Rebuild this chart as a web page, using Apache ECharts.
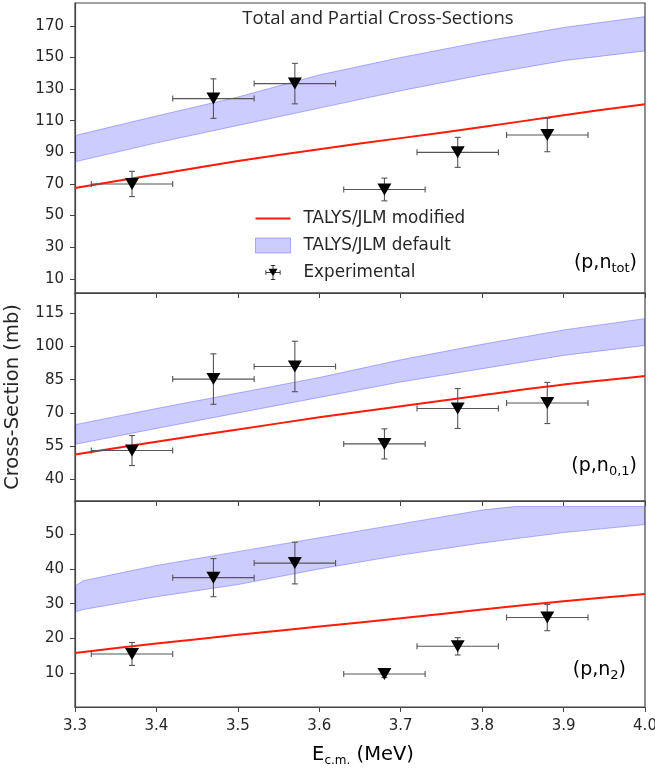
<!DOCTYPE html>
<html>
<head>
<meta charset="utf-8">
<script src="https://cdn.jsdelivr.net/npm/echarts@6/dist/echarts.min.js"></script>
<style>
  html, body { margin: 0; padding: 0; background: #fff; }
  #main { width: 655px; height: 772px; }
</style>
</head>
<body>
<div id="main"></div>
<script>
// measured points (same energies in every panel)
var energies = [3.37, 3.47, 3.57, 3.68, 3.77, 3.88];
var energyErr = [0.05, 0.05, 0.05, 0.05, 0.05, 0.05];

var totExp = [70, 124, 133.5, 66.5, 90, 101];
var totErr = [8, 12.5, 12.8, 7.2, 9.5, 10.6];
var n01Exp = [53, 85.3, 91, 56, 72, 74.5];
var n01Err = [6.8, 11.4, 11.4, 6.8, 9, 9.3];
var n2Exp = [15.5, 37.5, 41.7, 9.7, 17.7, 26];
var n2Err = [3.3, 5.5, 6, 1, 2.5, 3.8];

// TALYS/JLM modified curves
var modelE = [3.3, 3.4, 3.5, 3.6, 3.7, 3.8, 3.9, 4.0];
var totModified = [67.4, 76, 84.5, 92, 99, 106, 113.5, 120.5];
var n01Modified = [51.2, 57, 62.5, 68, 73, 78, 82.8, 86.7];
var n2Modified = [15.8, 18.5, 21, 23.4, 25.8, 28.3, 30.7, 32.8];

// TALYS/JLM default bands
var totLow = [84, 96, 107, 118, 129, 139, 148, 154.2];
var totHigh = [100.6, 113, 125, 139, 150, 160, 169, 175.9];
var n01Low = [55.8, 63, 70, 77, 84, 90, 96, 100.5];
var n01High = [64.7, 72, 79, 86, 94, 101, 107.5, 112.6];
var n2BandE = [3.3, 3.31, 3.4, 3.5, 3.6, 3.7, 3.8, 3.84, 3.9, 4.0];
var n2Low = [27.6, 28.3, 32, 35.5, 40, 44, 47.5, 48.7, 50.5, 52.8];
var n2High = [35.1, 36.6, 41, 45, 49, 53, 57, 58, 58, 58];

// tick labels
var totTicks = [10, 30, 50, 70, 90, 110, 130, 150, 170];
var n01Ticks = [40, 55, 70, 85, 100, 115];
var n2Ticks = [10, 20, 30, 40, 50];

var FONT = 'DejaVu Sans';
var TXT = '#262626';
var AX = '#444';
var BAND_FILL = 'rgba(0,0,255,0.2)';
var BAND_EDGE = 'rgba(90,90,255,0.45)';

function zip(xs, ys) {
  return xs.map(function (x, i) { return [x, ys[i]]; });
}

function bandSeries(idx, xs, lo, hi) {
  return {
    name: 'TALYS/JLM default',
    type: 'custom',
    xAxisIndex: idx, yAxisIndex: idx,
    z: 1,
    clip: true,
    itemStyle: { color: BAND_FILL },
    encode: { x: 0, y: [1, 2] },
    data: xs.map(function (x, i) { return [x, lo[i], hi[i]]; }),
    renderItem: function (params, api) {
      if (params.dataIndex !== 0) return;
      var top = xs.map(function (x, i) { return api.coord([x, hi[i]]); });
      var bot = xs.map(function (x, i) { return api.coord([x, lo[i]]); });
      var poly = top.concat(bot.slice().reverse());
      return {
        type: 'group',
        children: [
          { type: 'polygon', shape: { points: poly }, style: { fill: BAND_FILL, stroke: null } },
          { type: 'polyline', shape: { points: top }, style: { stroke: BAND_EDGE, lineWidth: 1, fill: null } },
          { type: 'polyline', shape: { points: bot }, style: { stroke: BAND_EDGE, lineWidth: 1, fill: null } }
        ]
      };
    }
  };
}

function lineSeries(idx, ys) {
  return {
    name: 'TALYS/JLM modified',
    type: 'line',
    xAxisIndex: idx, yAxisIndex: idx,
    z: 2,
    smooth: 0.3,
    symbol: 'none',
    lineStyle: { color: '#ff1a0a', width: 2 },
    itemStyle: { color: '#ff1a0a' },
    data: zip(modelE, ys)
  };
}

function errSeries(idx, ys, dy) {
  return {
    name: 'Experimental',
    type: 'custom',
    xAxisIndex: idx, yAxisIndex: idx,
    z: 3,
    itemStyle: { color: '#000' },
    encode: { x: 0, y: 1 },
    data: energies.map(function (x, i) { return [x, ys[i], energyErr[i], dy[i]]; }),
    renderItem: function (params, api) {
      var x = api.value(0), y = api.value(1), ex = api.value(2), ey = api.value(3);
      var l = api.coord([x - ex, y]), r = api.coord([x + ex, y]);
      var t = api.coord([x, y + ey]), b = api.coord([x, y - ey]);
      var st = { stroke: '#555', lineWidth: 1.1 };
      var cap = 3;
      function seg(x1, y1, x2, y2) {
        return { type: 'line', shape: { x1: x1, y1: y1, x2: x2, y2: y2 }, style: st };
      }
      return {
        type: 'group',
        children: [
          seg(l[0], l[1], r[0], r[1]),
          seg(l[0], l[1] - cap, l[0], l[1] + cap),
          seg(r[0], r[1] - cap, r[0], r[1] + cap),
          seg(t[0], t[1], b[0], b[1]),
          seg(t[0] - cap, t[1], t[0] + cap, t[1]),
          seg(b[0] - cap, b[1], b[0] + cap, b[1])
        ]
      };
    }
  };
}

function pointSeries(idx, ys) {
  return {
    name: 'Experimental',
    type: 'scatter',
    xAxisIndex: idx, yAxisIndex: idx,
    z: 4,
    symbol: 'triangle',
    symbolRotate: 180,
    symbolSize: [14, 12],
    itemStyle: { color: '#000', opacity: 1 },
    data: zip(energies, ys)
  };
}

function xAxis(idx, showLabels) {
  return {
    type: 'value', gridIndex: idx,
    min: 3.3, max: 4.0, interval: 0.1,
    axisLine: { show: true, lineStyle: { color: AX, width: 1.2 } },
    axisTick: { show: true, length: 5, lineStyle: { color: AX } },
    splitLine: { show: false },
    axisLabel: {
      show: showLabels, color: TXT, fontFamily: FONT, fontSize: 15, margin: 12,
      formatter: function (v) { return v.toFixed(1); }
    }
  };
}

function yAxis(idx, min, max, ticks) {
  return {
    type: 'value', gridIndex: idx,
    min: min, max: max,
    axisLine: { show: true, lineStyle: { color: AX, width: 1.2 } },
    axisTick: { show: true, length: 5, lineStyle: { color: AX }, customValues: ticks },
    splitLine: { show: false },
    axisLabel: { color: TXT, fontFamily: FONT, fontSize: 15, margin: 11, customValues: ticks }
  };
}

function grid(top, height) {
  return {
    left: 75, right: 10, top: top, height: height,
    outerBoundsMode: 'none', containLabel: false,
    show: true, borderColor: AX, borderWidth: 1.2, backgroundColor: 'transparent'
  };
}

var lineIcon = 'path://M0,0L35,0L35,2.2L0,2.2Z';
var expIcon = 'path://M0,9.5L20,9.5L20,10.5L0,10.5Z M0,7L1,7L1,13L0,13Z M19,7L20,7L20,13L19,13Z ' +
  'M9.5,0L10.5,0L10.5,20L9.5,20Z M7,0L13,0L13,1L7,1Z M7,19L13,19L13,20L7,20Z M4,5L16,5L10,15Z';

var myChart = echarts.init(document.getElementById('main'));

var option = {
  animation: false,
  backgroundColor: '#fff',
  grid: [grid(3, 290), grid(293, 208), grid(501, 206)],
  xAxis: [xAxis(0, false), xAxis(1, false), xAxis(2, true)],
  yAxis: [
    yAxis(0, 1, 184.5, totTicks),
    yAxis(1, 30.2, 124.2, n01Ticks),
    yAxis(2, 0.2, 59.6, n2Ticks)
  ],
  legend: {
    orient: 'vertical',
    left: 255, top: 210,
    padding: 0,
    itemWidth: 35, itemHeight: 15, itemGap: 10,
    textStyle: { color: TXT, fontFamily: FONT, fontSize: 16.8, padding: [0, 0, 0, 8] },
    data: [
      { name: 'TALYS/JLM modified', icon: lineIcon, itemStyle: { color: '#ff1a0a' } },
      { name: 'TALYS/JLM default', icon: 'rect', itemStyle: { color: BAND_FILL, borderColor: BAND_EDGE, borderWidth: 1 } },
      { name: 'Experimental', icon: expIcon, itemStyle: { color: '#000' } }
    ]
  },
  graphic: [
    { type: 'text', x: 378, y: 19, style: { text: 'Total and Partial Cross-Sections', fontFamily: 'Open Sans', fontSize: 18.5, fill: TXT, align: 'center', verticalAlign: 'middle' } },
    { type: 'text', x: 13, y: 397, rotation: Math.PI / 2, style: { text: 'Cross-Section (mb)', fontFamily: FONT, fontSize: 19.5, fill: TXT, align: 'center', verticalAlign: 'middle' } },
    { type: 'text', x: 363, y: 755, style: {
        text: '{a|E}{s|c.m.}{a| (MeV)}', align: 'center', verticalAlign: 'middle',
        rich: {
          a: { fontFamily: FONT, fontSize: 19.5, color: TXT },
          s: { fontFamily: FONT, fontSize: 12, color: TXT, padding: [11, 0, 0, 0] }
        } } },
    { type: 'text', x: 637, y: 263, style: {
        text: '{a|(p,n}{s|tot}{a|)}', align: 'right', verticalAlign: 'middle',
        rich: {
          a: { fontFamily: FONT, fontSize: 19, color: TXT },
          s: { fontFamily: FONT, fontSize: 13, color: TXT, padding: [11, 0, 0, 0] }
        } } },
    { type: 'text', x: 637, y: 466, style: {
        text: '{a|(p,n}{s|0,1}{a|)}', align: 'right', verticalAlign: 'middle',
        rich: {
          a: { fontFamily: FONT, fontSize: 19, color: TXT },
          s: { fontFamily: FONT, fontSize: 13, color: TXT, padding: [11, 0, 0, 0] }
        } } },
    { type: 'text', x: 626, y: 670, style: {
        text: '{a|(p,n}{s|2}{a|)}', align: 'right', verticalAlign: 'middle',
        rich: {
          a: { fontFamily: FONT, fontSize: 19, color: TXT },
          s: { fontFamily: FONT, fontSize: 13, color: TXT, padding: [11, 0, 0, 0] }
        } } }
  ],
  series: [
    bandSeries(0, modelE, totLow, totHigh),
    lineSeries(0, totModified),
    errSeries(0, totExp, totErr),
    pointSeries(0, totExp),
    bandSeries(1, modelE, n01Low, n01High),
    lineSeries(1, n01Modified),
    errSeries(1, n01Exp, n01Err),
    pointSeries(1, n01Exp),
    bandSeries(2, n2BandE, n2Low, n2High),
    lineSeries(2, n2Modified),
    errSeries(2, n2Exp, n2Err),
    pointSeries(2, n2Exp)
  ]
};

myChart.setOption(option);
</script>
</body>
</html>
